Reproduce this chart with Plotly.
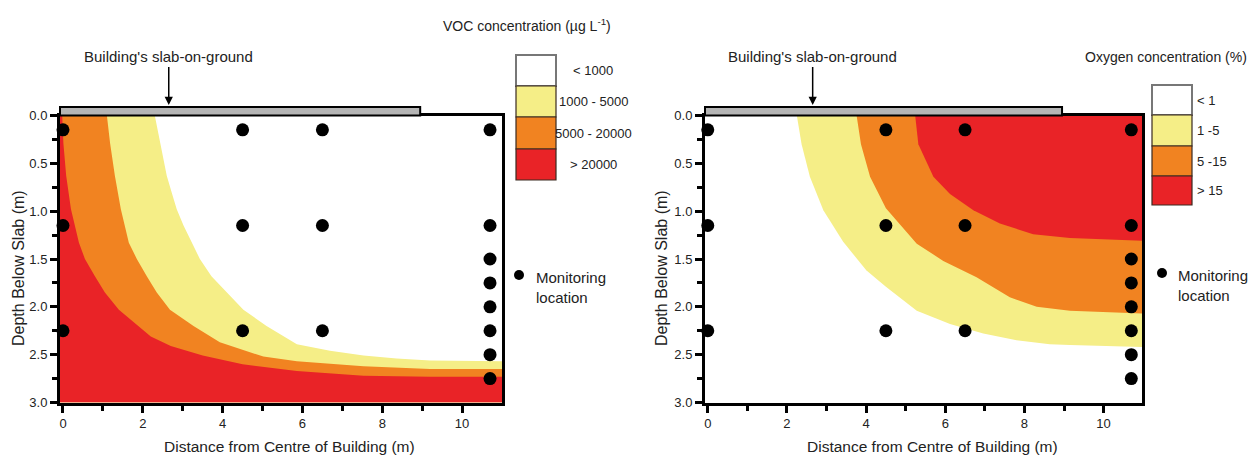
import plotly.graph_objects as go

W, H = 1257, 458
OFF = 8  # page body margin in the browser
FW, FH = W - OFF, H - OFF

# ---------------- data ----------------
mon_x = [0, 4.5, 6.5, 10.7, 0, 4.5, 6.5, 10.7, 10.7, 10.7, 10.7, 0, 4.5, 6.5, 10.7, 10.7, 10.7]
mon_y = [0.15, 0.15, 0.15, 0.15, 1.15, 1.15, 1.15, 1.15, 1.5, 1.75, 2.0, 2.25, 2.25, 2.25, 2.25, 2.5, 2.75]

voc_labels = ["< 1000", "1000 - 5000", "5000 - 20000", "> 20000"]
o2_labels = ["< 1", "1 -5", "5 -15", "> 15"]

# VOC iso-lines (left panel), from slab to right edge
voc_1000_x = [2.3, 2.43, 2.6, 2.72, 2.85, 3.02, 3.23, 3.43, 3.72, 4.1, 4.52, 5.1, 5.86, 6.69, 7.53, 8.36, 9.2, 11.0]
voc_1000_y = [0.0, 0.29, 0.63, 0.8, 0.98, 1.15, 1.33, 1.5, 1.68, 1.85, 2.03, 2.2, 2.39, 2.46, 2.51, 2.54, 2.56, 2.57]
voc_5000_x = [1.1, 1.18, 1.3, 1.45, 1.65, 1.85, 2.1, 2.35, 2.68, 3.27, 3.93, 4.5, 5.02, 5.86, 7.53, 9.2, 11.0]
voc_5000_y = [0.0, 0.29, 0.63, 0.98, 1.33, 1.5, 1.68, 1.85, 2.03, 2.2, 2.37, 2.45, 2.52, 2.57, 2.62, 2.65, 2.65]
voc_20000_x = [-0.02, 0.01, 0.08, 0.2, 0.4, 0.55, 0.8, 1.05, 1.4, 1.8, 2.2, 2.7, 3.5, 4.5, 5.86, 7.53, 9.2, 11.0]
voc_20000_y = [0.0, 0.29, 0.63, 0.98, 1.33, 1.5, 1.68, 1.85, 2.03, 2.17, 2.31, 2.41, 2.51, 2.6, 2.67, 2.72, 2.73, 2.73]

# Oxygen iso-lines (right panel), from slab to right edge
o2_1_x = [2.25, 2.37, 2.58, 2.92, 3.42, 4.01, 4.5, 5.28, 6.12, 6.96, 7.8, 8.64, 9.15, 10.97]
o2_1_y = [0.0, 0.30, 0.64, 0.99, 1.32, 1.62, 1.79, 2.04, 2.18, 2.28, 2.35, 2.39, 2.40, 2.42]
o2_5_x = [3.76, 3.87, 4.1, 4.5, 5.28, 5.95, 6.79, 7.63, 8.31, 9.15, 10.97]
o2_5_y = [0.0, 0.30, 0.64, 0.97, 1.34, 1.52, 1.69, 1.90, 2.0, 2.04, 2.07]
o2_15_x = [5.24, 5.32, 5.70, 6.12, 6.71, 7.38, 8.22, 9.15, 10.97]
o2_15_y = [0.0, 0.30, 0.64, 0.82, 0.99, 1.13, 1.24, 1.28, 1.31]

slab_end = 8.95
arrow_x = 2.65

# ---------------- style ----------------
FONT = "Liberation Sans, Arial, sans-serif"
C_WHITE, C_YEL, C_ORA, C_RED = "#FFFFFF", "#F5EE87", "#F18321", "#E92327"
XR_L = [-0.075, 11.0]
XR_R = [-0.07, 10.97]
YR = [3.0, 0.0]


def px(X):
    return (X - OFF) / FW


def py(Y):
    return 1 - (Y - OFF) / FH


DOM_L = [60, 502]
DOM_R = [705, 1142]
DOM_Y = [115.5, 402.5]

fig = go.Figure()


def below_left(bx, by, xr, color, xa, ya):
    xs = list(bx) + [xr[1], xr[0], xr[0]]
    ys = list(by) + [YR[0], YR[0], 0.0]
    fig.add_trace(go.Scatter(x=xs, y=ys, fill="toself", fillcolor=color, mode="lines",
                             line=dict(width=0, color=color), xaxis=xa, yaxis=ya,
                             hoverinfo="skip", showlegend=False))


def upper_right(bx, by, xr, color, xa, ya):
    xs = list(bx) + [xr[1]]
    ys = list(by) + [0.0]
    fig.add_trace(go.Scatter(x=xs, y=ys, fill="toself", fillcolor=color, mode="lines",
                             line=dict(width=0, color=color), xaxis=xa, yaxis=ya,
                             hoverinfo="skip", showlegend=False))


below_left(voc_1000_x, voc_1000_y, XR_L, C_YEL, "x", "y")
below_left(voc_5000_x, voc_5000_y, XR_L, C_ORA, "x", "y")
below_left(voc_20000_x, voc_20000_y, XR_L, C_RED, "x", "y")

upper_right(o2_1_x, o2_1_y, XR_R, C_YEL, "x2", "y2")
upper_right(o2_5_x, o2_5_y, XR_R, C_ORA, "x2", "y2")
upper_right(o2_15_x, o2_15_y, XR_R, C_RED, "x2", "y2")

for xa, ya in (("x", "y"), ("x2", "y2")):
    fig.add_trace(go.Scatter(x=mon_x, y=mon_y, mode="markers", xaxis=xa, yaxis=ya,
                             marker=dict(size=13, color="black"), cliponaxis=False,
                             hoverinfo="skip", showlegend=False))

axis_common = dict(showline=True, linecolor="black", linewidth=3, mirror=True,
                   ticks="outside", ticklen=7, tickwidth=2.5, tickcolor="black",
                   showgrid=False, zeroline=False, automargin=False,
                   tickfont=dict(family=FONT, size=13, color="#222"))
minor_x = dict(tickvals=[1, 3, 5, 7, 9], ticks="outside", ticklen=5, tickwidth=2.5, tickcolor="black")
minor_y = dict(tickvals=[0.25, 0.75, 1.25, 1.75, 2.25, 2.75], ticks="outside", ticklen=5,
               tickwidth=2.5, tickcolor="black")

layout = dict(
    width=FW, height=FH, margin=dict(l=0, r=0, t=0, b=0),
    paper_bgcolor="white", plot_bgcolor="white",
    font=dict(family=FONT, color="#222"),
    xaxis=dict(domain=[px(DOM_L[0]), px(DOM_L[1])], range=XR_L, anchor="y",
               tickvals=[0, 2, 4, 6, 8, 10], minor=minor_x, **axis_common),
    yaxis=dict(domain=[py(DOM_Y[1]), py(DOM_Y[0])], range=YR, anchor="x",
               tickvals=[0, 0.5, 1.0, 1.5, 2.0, 2.5, 3.0], tickformat=".1f",
               minor=minor_y, **axis_common),
    xaxis2=dict(domain=[px(DOM_R[0]), px(DOM_R[1])], range=XR_R, anchor="y2",
                tickvals=[0, 2, 4, 6, 8, 10], minor=minor_x, **axis_common),
    yaxis2=dict(domain=[py(DOM_Y[1]), py(DOM_Y[0])], range=YR, anchor="x2",
                tickvals=[0, 0.5, 1.0, 1.5, 2.0, 2.5, 3.0], tickformat=".1f",
                minor=minor_y, **axis_common),
)
fig.update_layout(**layout)

shapes = []
annotations = []


def data_to_X(x, xr, dom):
    return dom[0] + (x - xr[0]) / (xr[1] - xr[0]) * (dom[1] - dom[0])


panels = [
    dict(xr=XR_L, dom=DOM_L, xref="x", labels=voc_labels,
         title="VOC concentration (µg L<sup>-1</sup>)", title_xy=(527, 25),
         box_x=(516, 556), box_y=[55, 86, 117, 149, 180], lab_x=593, lab_anchor="center",
         mon_dot=(519, 275), mon_text=(534, 287), xtitle_x=289, ytitle_x=18),
    dict(xr=XR_R, dom=DOM_R, xref="x2", labels=o2_labels,
         title="Oxygen concentration (%)", title_xy=(1166, 57),
         box_x=(1152, 1192), box_y=[85, 115, 146, 176, 205], lab_x=1195, lab_anchor="left",
         mon_dot=(1162, 273), mon_text=(1176, 285), xtitle_x=932, ytitle_x=661),
]

colors = [C_WHITE, C_YEL, C_ORA, C_RED]

for p in panels:
    # slab
    x_end = data_to_X(slab_end, p["xr"], p["dom"])
    shapes.append(dict(type="rect", xref="paper", yref="paper",
                       x0=px(p["dom"][0]), x1=px(x_end), y0=py(115.5), y1=py(107),
                       fillcolor="#B5B5B5", line=dict(color="black", width=2), layer="above"))
    # arrow + slab label
    annotations.append(dict(text="Building's slab-on-ground", xref=p["xref"], x=arrow_x,
                            yref="paper", y=py(105), ax=0, ay=-48, showarrow=True,
                            arrowhead=2, arrowsize=1.1, arrowwidth=1.5, arrowcolor="black",
                            font=dict(family=FONT, size=15, color="#222")))
    # legend title
    annotations.append(dict(text=p["title"], xref="paper", yref="paper",
                            x=px(p["title_xy"][0]), y=py(p["title_xy"][1]),
                            showarrow=False, xanchor="center", yanchor="middle",
                            font=dict(family=FONT, size=14, color="#222")))
    # legend boxes
    for i, (lab, col) in enumerate(zip(p["labels"], colors)):
        y0, y1 = p["box_y"][i], p["box_y"][i + 1]
        shapes.append(dict(type="rect", xref="paper", yref="paper",
                           x0=px(p["box_x"][0]), x1=px(p["box_x"][1]), y0=py(y1), y1=py(y0),
                           fillcolor=col,
                           line=dict(color="#777" if i == 0 else "#3a2a20", width=2 if i == 0 else 1.2)))
        annotations.append(dict(text=lab, xref="paper", yref="paper",
                                x=px(p["lab_x"]), y=py((y0 + y1) / 2),
                                showarrow=False, xanchor=p["lab_anchor"], yanchor="middle",
                                font=dict(family=FONT, size=13, color="#222")))
    # monitoring legend
    cx, cy = p["mon_dot"]
    shapes.append(dict(type="circle", xref="paper", yref="paper",
                       x0=px(cx - 5), x1=px(cx + 5), y0=py(cy + 5), y1=py(cy - 5),
                       fillcolor="black", line=dict(color="black", width=0)))
    annotations.append(dict(text="Monitoring<br>location", xref="paper", yref="paper",
                            x=px(p["mon_text"][0]), y=py(p["mon_text"][1]),
                            showarrow=False, xanchor="left", yanchor="middle", align="left",
                            font=dict(family=FONT, size=15, color="#222")))
    # axis titles
    annotations.append(dict(text="Distance from Centre of Building (m)", xref="paper", yref="paper",
                            x=px(p["xtitle_x"]), y=py(446), showarrow=False,
                            xanchor="center", yanchor="middle",
                            font=dict(family=FONT, size=15.5, color="#222")))
    annotations.append(dict(text="Depth Below Slab (m)", xref="paper", yref="paper",
                            x=px(p["ytitle_x"]), y=py(268), showarrow=False, textangle=-90,
                            xanchor="center", yanchor="middle",
                            font=dict(family=FONT, size=16, color="#222")))

fig.update_layout(shapes=shapes, annotations=annotations)
fig.write_html("out.html")
